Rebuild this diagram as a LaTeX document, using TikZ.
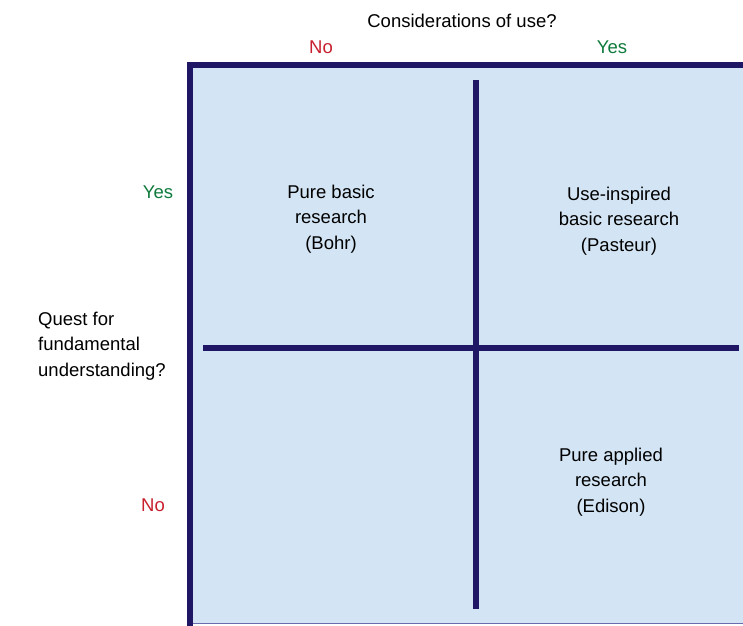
\documentclass[tikz,border=0pt]{standalone}
\usepackage{fontspec}
\setmainfont{Liberation Sans}
\usetikzlibrary{positioning}
\definecolor{quadnavy}{HTML}{1F1666}
\definecolor{quadfill}{HTML}{D3E5F4}
\definecolor{quadedge}{HTML}{6B6BB0}
\definecolor{answerred}{HTML}{C8202E}
\definecolor{answergreen}{HTML}{0E7A3C}

\begin{document}
\begin{tikzpicture}[
  x=1pt, y=-1pt,
  lbl/.style={align=center, inner sep=0pt, font=\fontsize{18.5}{25.5}\selectfont},
  ans/.style={lbl, text=#1},
  divider/.style={draw=quadnavy, line width=6pt},
]
\useasboundingbox (0,0) rectangle (743,625);

%% Box background and frame
\fill[quadfill] (190,65) rectangle (743,623);
\draw[quadedge, line width=1pt] (190,623) -- (743,623);
\draw[divider, line cap=rect] (190,623) -- (190,65) -- (743,65);

%% Quadrant dividers
\coordinate (vtop) at (476,80);
\coordinate (vbot) at (476,609);
\coordinate (hleft) at (203,348);
\coordinate (hright) at (739,348);
\draw[divider] (vtop) -- (vbot);
\draw[divider] (hleft) -- (hright);

%% Axis titles
\node[lbl] (usetitle) at (462,21) {Considerations of use?};
\node[lbl, align=left, anchor=west] (questtitle) at (38,346) {Quest for\\fundamental\\understanding?};

%% Axis answers
\node[ans=answerred] (useno) at (321,47) {No};
\node[ans=answergreen] (useyes) at (612,47) {Yes};
\node[ans=answergreen] (questyes) at (158,192) {Yes};
\node[ans=answerred] (questno) at (153,505) {No};

%% Quadrant labels
\node[lbl] (bohr) at (331,219) {Pure basic\\research\\(Bohr)};
\node[lbl] (pasteur) at (619,221) {Use-inspired\\basic research\\(Pasteur)};
\node[lbl] (edison) at (611,482) {Pure applied\\research\\(Edison)};
\end{tikzpicture}
\end{document}
